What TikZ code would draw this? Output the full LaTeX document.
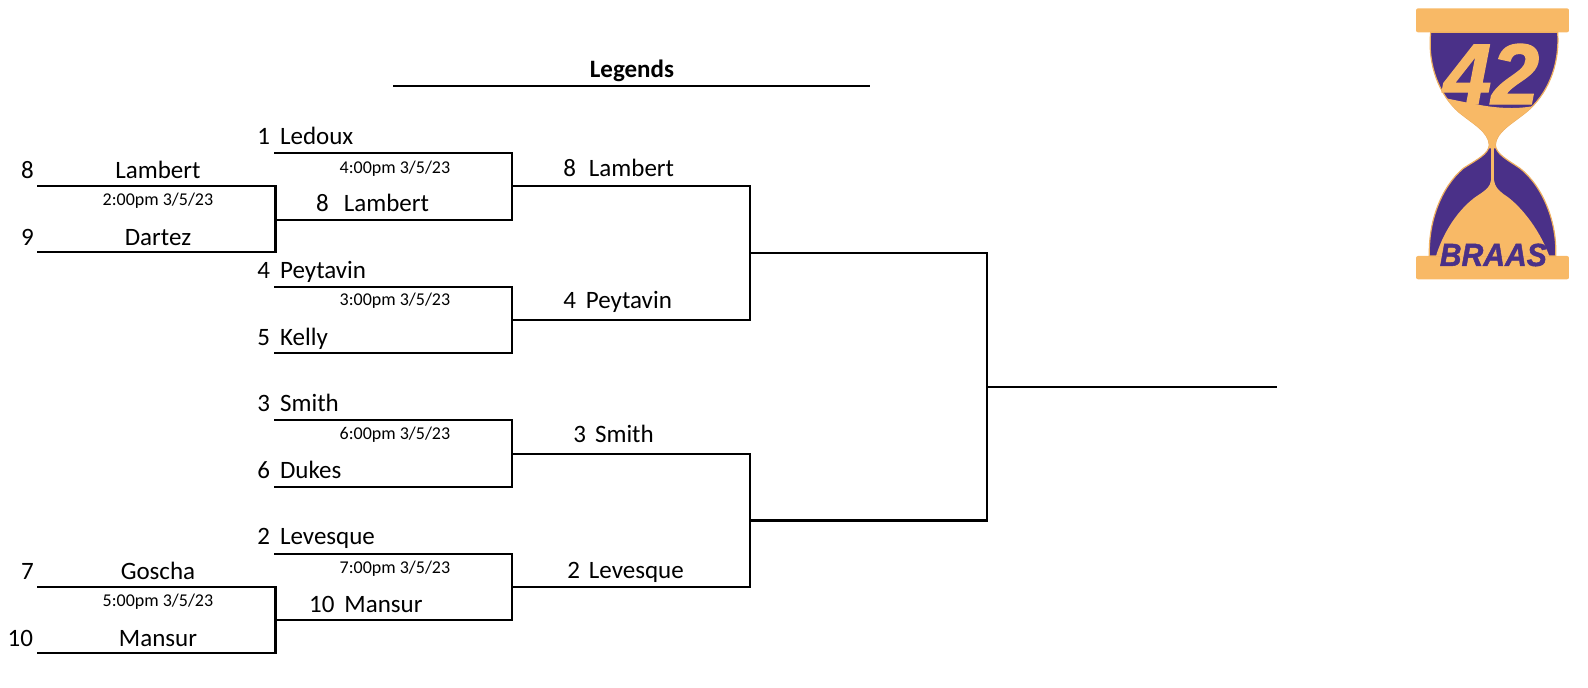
\documentclass[tikz,border=0pt]{standalone}
\usepackage{fontspec}
\setmainfont{Carlito}
\newfontfamily\logofont[FakeBold=1.5]{Liberation Sans}
\definecolor{logopurple}{HTML}{4A3088}
\definecolor{logogold}{HTML}{F8B966}
\tikzset{
  x=1.0127pt,y=-1.0127pt,
  wire/.style={draw=black,line width=2.1pt,line cap=rect,line join=miter},
  teamtext/.style={font=\fontsize{25}{28}\selectfont,inner sep=0pt,anchor=base},
  teamleft/.style={teamtext,anchor=base west},
  whentext/.style={font=\fontsize{18}{20}\selectfont,inner sep=0pt,anchor=base},
  headtext/.style={font=\bfseries\fontsize{25}{28}\selectfont,inner sep=0pt,anchor=base},
}
\begin{document}
\begin{tikzpicture}
\useasboundingbox (0,0) rectangle (1568.1,678.4);
% round 1 lines
\coordinate (a1) at (38,184); \coordinate (a2) at (272,184); \coordinate (a3) at (272,249); \coordinate (a4) at (38,249);
\draw[wire] (a1)--(a2)--(a3)--(a4);
\coordinate (b1) at (38,580); \coordinate (b2) at (272,580); \coordinate (b3) at (272,645); \coordinate (b4) at (38,645);
\draw[wire] (b1)--(b2)--(b3)--(b4);
% round 2
\foreach \n/\t/\bb in {c/151/217,d/283/349,e/415/481,f/547/612}{
  \coordinate (\n1) at (272,\t); \coordinate (\n2) at (506,\t); \coordinate (\n3) at (506,\bb); \coordinate (\n4) at (272,\bb);
  \draw[wire] (\n1)--(\n2)--(\n3)--(\n4);
}
% semis
\coordinate (g1) at (506,184); \coordinate (g2) at (741,184); \coordinate (g3) at (741,316); \coordinate (g4) at (506,316);
\draw[wire] (g1)--(g2)--(g3)--(g4);
\coordinate (h1) at (506,448); \coordinate (h2) at (741,448); \coordinate (h3) at (741,580); \coordinate (h4) at (506,580);
\draw[wire] (h1)--(h2)--(h3)--(h4);
% final
\coordinate (i1) at (741,250); \coordinate (i2) at (975,250); \coordinate (i3) at (975,514); \coordinate (i4) at (741,514);
\draw[wire] (i1)--(i2)--(i3)--(i4);
\coordinate (j1) at (975,382); \coordinate (j2) at (1260,382);
\draw[wire] (j1)--(j2);
% legends
\coordinate (l1) at (389,85); \coordinate (l2) at (858,85);
\draw[wire] (l1)--(l2);
\node[headtext] (leg) at (624,77) {Legends};
% labels
\node[teamtext] (s1) at (27,176) {8};
\node[teamtext] (n1) at (156,176) {Lambert};
\node[whentext] (w1) at (156,203) {2:00pm 3/5/23};
\node[teamtext] (s2) at (27,242) {9};
\node[teamtext] (n2) at (156,242) {Dartez};
\node[teamtext] (s3) at (27,572) {7};
\node[teamtext] (n3) at (156,572) {Goscha};
\node[whentext] (w2) at (156,599) {5:00pm 3/5/23};
\node[teamtext] (s4) at (20,638) {10};
\node[teamtext] (n4) at (156,638) {Mansur};
\node[teamleft] (n5) at (254,143) {1\hspace{10pt}Ledoux};
\node[whentext] (w3) at (390,171) {4:00pm 3/5/23};
\node[teamleft] (n6) at (312,209) {8\hspace{15pt}Lambert};
\node[teamleft] (n7) at (254,275) {4\hspace{10pt}Peytavin};
\node[whentext] (w4) at (390,302) {3:00pm 3/5/23};
\node[teamleft] (n8) at (254,341) {5\hspace{10pt}Kelly};
\node[teamleft] (n9) at (254,406) {3\hspace{10pt}Smith};
\node[whentext] (w5) at (390,434) {6:00pm 3/5/23};
\node[teamleft] (n10) at (254,472) {6\hspace{10pt}Dukes};
\node[teamleft] (n11) at (254,538) {2\hspace{10pt}Levesque};
\node[whentext] (w6) at (390,566) {7:00pm 3/5/23};
\node[teamleft] (n12) at (305,605) {10\hspace{10pt}Mansur};
\node[teamleft] (n13) at (556,174) {8\hspace{13pt}Lambert};
\node[teamleft] (n14) at (556,305) {4\hspace{10pt}Peytavin};
\node[teamleft] (n15) at (566,437) {3\hspace{9pt}Smith};
\node[teamleft] (n16) at (560,571) {2\hspace{9pt}Levesque};
% logo, in crop coordinates of the reference
\begin{scope}[x=0.3333pt,y=-0.3333pt,xshift=1390pt]
\fill[logogold,rounded corners=2pt] (78,25) rectangle (537,97);
\fill[logogold,rounded corners=2pt] (78,768) rectangle (537,838);
\def\hourglass{(122,97) -- (503,97) .. controls (510,200) and (470,285) .. (410,335)
  .. controls (365,372) and (318,395) .. (316,435)
  .. controls (318,462) and (350,478) .. (390,505)
  .. controls (460,560) and (502,670) .. (497,768) -- (118,768)
  .. controls (115,670) and (150,565) .. (220,505)
  .. controls (262,478) and (296,462) .. (298,435)
  .. controls (296,395) and (250,372) .. (205,335)
  .. controls (150,285) and (112,200) .. (122,97) -- cycle}
\fill[logopurple,draw=logogold!85!brown,line width=1.2pt] \hourglass;
\begin{scope}
\clip \hourglass;
% upper sand
\fill[logogold] (130,288) .. controls (260,310) and (360,350) .. (500,300)
  -- (500,445) -- (110,445) -- cycle;
% lower sand
\fill[logogold] (303,540) .. controls (301,560) and (290,568) .. (270,582)
  .. controls (220,612) and (165,680) .. (138,768) -- (478,768)
  .. controls (445,680) and (385,610) .. (340,582)
  .. controls (325,570) and (314,560) .. (312,540) -- cycle;
\end{scope}
% stem
\fill[logogold] (303,430) rectangle (312,545);
\node[inner sep=0pt,anchor=center,text=logogold,font=\logofont\bfseries\itshape\fontsize{86}{86}\selectfont] (fortytwo) at (304,222) {42};
\node[inner sep=0pt,anchor=center,text=logopurple,font=\logofont\bfseries\itshape\fontsize{32}{32}\selectfont,xscale=.94] (braas) at (310,765) {BRAAS};
\end{scope}
\end{tikzpicture}
\end{document}
